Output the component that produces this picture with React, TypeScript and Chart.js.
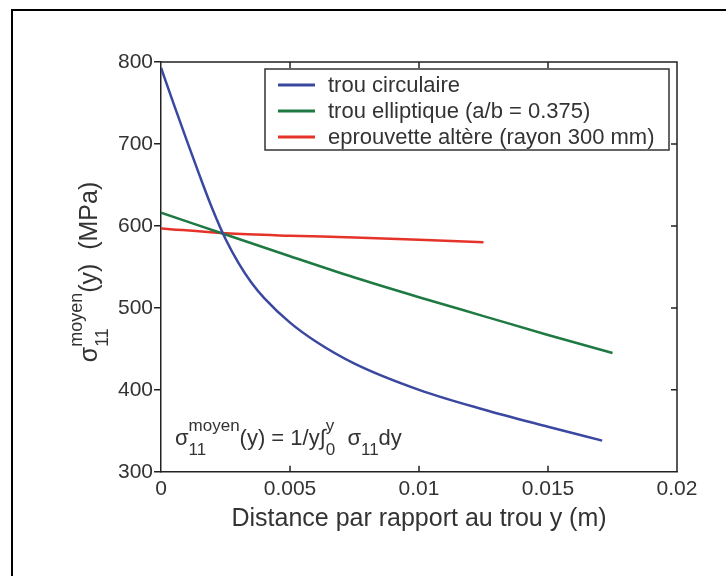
import React, { useEffect, useRef } from "react";
import { Chart, registerables } from "chart.js";

Chart.register(...registerables);

const FONT = "'Liberation Sans', Arial, Helvetica, sans-serif";

const X_TICKS = [0, 0.005, 0.01, 0.015, 0.02];
const X_TICK_LABELS = ["0", "0.005", "0.01", "0.015", "0.02"];
const Y_TICKS = [300, 400, 500, 600, 700, 800];
const Y_TICK_LABELS = ["300", "400", "500", "600", "700", "800"];

const SERIES_LABELS = [
  "trou circulaire",
  "trou elliptique (a/b = 0.375)",
  "eprouvette altère (rayon 300 mm)",
];
const SERIES_COLORS = ["#3b48a0", "#1e7a42", "#e5332a"];

const CIRC_X = [0, 0.0005, 0.001, 0.0015, 0.002, 0.0025, 0.003, 0.0035, 0.004, 0.005, 0.006, 0.0075, 0.01, 0.0125, 0.015, 0.0171];
const CIRC_Y = [793, 748, 704, 661, 620, 584, 555, 531, 512, 482, 459, 432, 400, 376, 355, 338];

const ELL_X = [0, 0.0025, 0.005, 0.0075, 0.01, 0.0125, 0.015, 0.0175];
const ELL_Y = [616, 589.5, 563, 537, 513, 490, 467, 445];

const ALT_X = [0, 0.0025, 0.005, 0.0075, 0.01, 0.0125];
const ALT_Y = [597, 591, 588, 586, 583, 580];

const X_TITLE = "Distance par rapport au trou y (m)";

type Tok = { t?: string; sup?: string; sub?: string };

function runTokens(
  ctx: CanvasRenderingContext2D,
  toks: Tok[],
  x: number,
  y: number,
  main: number,
  small: number,
  draw: boolean
): number {
  let cx = x;
  for (const tk of toks) {
    if (tk.t !== undefined) {
      ctx.font = `${main}px ${FONT}`;
      if (draw) ctx.fillText(tk.t, cx, y);
      cx += ctx.measureText(tk.t).width;
    } else {
      ctx.font = `${small}px ${FONT}`;
      let w = 0;
      if (tk.sup) {
        if (draw) ctx.fillText(tk.sup, cx, y - main * 0.62);
        w = Math.max(w, ctx.measureText(tk.sup).width);
      }
      if (tk.sub) {
        if (draw) ctx.fillText(tk.sub, cx, y + main * 0.45);
        w = Math.max(w, ctx.measureText(tk.sub).width);
      }
      cx += w;
    }
  }
  return cx - x;
}

const Y_TITLE_TOKS: Tok[] = [
  { t: "σ" },
  { sup: "moyen", sub: "11" },
  { t: "(y)  (MPa)" },
];

const FORMULA_TOKS: Tok[] = [
  { t: "σ" },
  { sup: "moyen", sub: "11" },
  { t: "(y) = 1/y∫" },
  { sup: "y", sub: "0" },
  { t: "  σ" },
  { sub: "11" },
  { t: "dy" },
];

const decorPlugin = {
  id: "decor",
  afterDraw(chart: any) {
    const ctx: CanvasRenderingContext2D = chart.ctx;
    const a = chart.chartArea;
    const xs = chart.scales.x;
    const ys = chart.scales.y;
    ctx.save();
    // frame top and right
    ctx.strokeStyle = "#222";
    ctx.lineWidth = 1.5;
    ctx.beginPath();
    ctx.moveTo(a.left, a.top);
    ctx.lineTo(a.right, a.top);
    ctx.lineTo(a.right, a.bottom);
    ctx.stroke();
    // inside ticks
    ctx.beginPath();
    for (const v of X_TICKS.slice(1, -1)) {
      const px = xs.getPixelForValue(v);
      ctx.moveTo(px, a.bottom);
      ctx.lineTo(px, a.bottom - 6);
      ctx.moveTo(px, a.top);
      ctx.lineTo(px, a.top + 6);
    }
    for (const v of Y_TICKS.slice(1, -1)) {
      const py = ys.getPixelForValue(v);
      ctx.moveTo(a.right, py);
      ctx.lineTo(a.right - 6, py);
    }
    ctx.stroke();

    // legend
    const lx = 265, ly = 69, lw = 404, lh = 81;
    ctx.fillStyle = "#fff";
    ctx.fillRect(lx, ly, lw, lh);
    ctx.strokeStyle = "#333";
    ctx.lineWidth = 1.5;
    ctx.strokeRect(lx, ly, lw, lh);
    ctx.font = `22px ${FONT}`;
    ctx.textBaseline = "middle";
    ctx.textAlign = "left";
    SERIES_LABELS.forEach((lab, i) => {
      const ry = ly + 16 + i * 26;
      ctx.strokeStyle = SERIES_COLORS[i];
      ctx.lineWidth = 3;
      ctx.beginPath();
      ctx.moveTo(lx + 13, ry);
      ctx.lineTo(lx + 50, ry);
      ctx.stroke();
      ctx.fillStyle = "#333";
      ctx.fillText(lab, lx + 63, ry + 1);
    });

    // formula annotation
    ctx.textBaseline = "alphabetic";
    ctx.fillStyle = "#333";
    runTokens(ctx, FORMULA_TOKS, 175, 445, 22, 17, true);

    // y title
    ctx.save();
    const w = runTokens(ctx, Y_TITLE_TOKS, 0, 0, 25, 18, false);
    ctx.translate(97, 272);
    ctx.rotate(-Math.PI / 2);
    runTokens(ctx, Y_TITLE_TOKS, -w / 2, 0, 25, 18, true);
    ctx.restore();

    // outer border
    ctx.strokeStyle = "#000";
    ctx.lineWidth = 2;
    ctx.beginPath();
    ctx.moveTo(12, 576);
    ctx.lineTo(12, 10);
    ctx.lineTo(726, 10);
    ctx.stroke();
    ctx.restore();
  },
};

function pts(xs: number[], ys: number[]) {
  return xs.map((x, i) => ({ x, y: ys[i] }));
}

export default function App() {
  const ref = useRef<HTMLCanvasElement | null>(null);
  useEffect(() => {
    if (!ref.current) return;
    const mk = (i: number, data: any[]) => ({
      label: SERIES_LABELS[i],
      data,
      borderColor: SERIES_COLORS[i],
      backgroundColor: SERIES_COLORS[i],
      borderWidth: 2.5,
      pointRadius: 0,
      cubicInterpolationMode: "monotone" as const,
      fill: false,
    });
    const chart = new Chart(ref.current, {
      type: "line",
      data: {
        datasets: [
          mk(0, pts(CIRC_X, CIRC_Y)),
          mk(1, pts(ELL_X, ELL_Y)),
          mk(2, pts(ALT_X, ALT_Y)),
        ],
      },
      options: {
        animation: false,
        responsive: true,
        maintainAspectRatio: false,
        layout: { padding: { left: 117, top: 62, right: 49, bottom: 42 } },
        plugins: { legend: { display: false }, tooltip: { enabled: false } },
        scales: {
          x: {
            type: "linear",
            min: 0,
            max: 0.02,
            afterBuildTicks: (s: any) => {
              s.ticks = X_TICKS.map((v) => ({ value: v }));
            },
            ticks: {
              callback: (v: any) => X_TICK_LABELS[X_TICKS.indexOf(Number(v))] ?? "",
              font: { size: 21, family: FONT },
              color: "#333",
              padding: 5,
              maxRotation: 0,
              autoSkip: false,
            },
            grid: { display: false, drawTicks: false },
            border: { display: true, color: "#222", width: 1.5 },
            title: {
              display: true,
              text: X_TITLE,
              font: { size: 25, family: FONT },
              color: "#333",
              padding: { top: -3, bottom: 0 },
            },
          },
          y: {
            type: "linear",
            min: 300,
            max: 800,
            afterBuildTicks: (s: any) => {
              s.ticks = Y_TICKS.map((v) => ({ value: v }));
            },
            ticks: {
              callback: (v: any) => Y_TICK_LABELS[Y_TICKS.indexOf(Number(v))] ?? "",
              font: { size: 21, family: FONT },
              color: "#333",
              padding: 1,
            },
            grid: { drawOnChartArea: false, drawTicks: true, tickLength: 7, color: "#222", lineWidth: 1.5 },
            border: { display: true, color: "#222", width: 1.5 },
          },
        },
      },
      plugins: [decorPlugin],
    });
    return () => chart.destroy();
  }, []);
  return (
    <div style={{ position: "fixed", left: 0, top: 0, width: 726, height: 576, background: "#fff" }}>
      <canvas ref={ref} />
    </div>
  );
}
